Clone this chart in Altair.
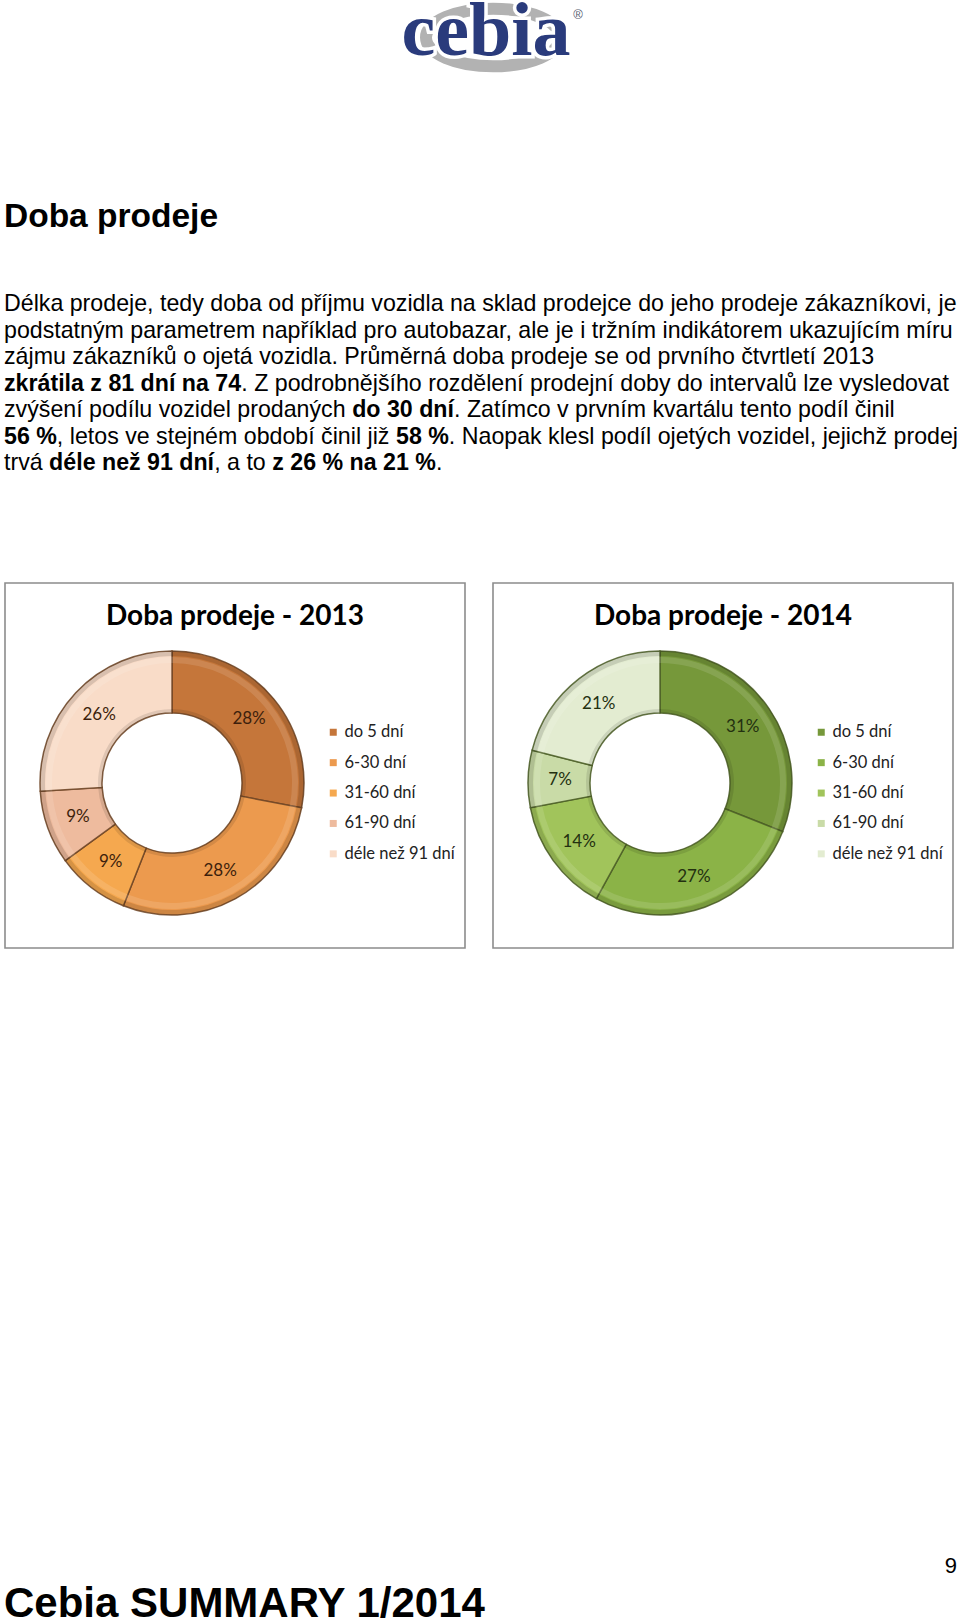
import altair as alt
import pandas as pd

# ------------------------------------------------------------------ data
categories = ["do 5 dní", "6-30 dní", "31-60 dní", "61-90 dní", "déle než 91 dní"]
share_2013 = [28, 28, 9, 9, 26]
share_2014 = [31, 27, 14, 7, 21]
colors_2013 = ["#c5763a", "#ec9a4e", "#f5a84f", "#eebb9e", "#f9dcc8"]
colors_2014 = ["#76983a", "#8bb347", "#a1c45b", "#c9dba7", "#e3ecd1"]
chart_titles = ["Doba prodeje - 2013", "Doba prodeje - 2014"]

logo_text = "cebia"
page_heading = "Doba prodeje"
footer_text = "Cebia SUMMARY 1/2014"
page_number = "9"

paragraph_lines = [
    [("Délka prodeje, tedy doba od příjmu vozidla na sklad prodejce do jeho prodeje zákazníkovi, je", False)],
    [("podstatným parametrem například pro autobazar, ale je i tržním indikátorem ukazujícím míru", False)],
    [("zájmu zákazníků o ojetá vozidla. Průměrná doba prodeje se od prvního čtvrtletí 2013", False)],
    [("zkrátila z 81 dní na 74", True), (". Z podrobnějšího rozdělení prodejní doby do intervalů lze vysledovat", False)],
    [("zvýšení podílu vozidel prodaných ", False), ("do 30 dní", True), (". Zatímco v prvním kvartálu tento podíl činil", False)],
    [("56 %", True), (", letos ve stejném období činil již ", False), ("58 %", True),
     (". Naopak klesl podíl ojetých vozidel, jejichž prodej", False)],
    [("trvá ", False), ("déle než 91 dní", True), (", a to ", False), ("z 26 % na 21 %", True), (".", False)],
]

# ------------------------------------------------------------------ fonts / metrics
SANS = "Liberation Sans"
LABEL_FONT = "Lato"
PARA_SIZE = 23.2

REG = {' ': 278, ',': 278, '.': 278, '-': 333, '%': 889, '/': 278, ':': 278,
       'A': 667, 'B': 667, 'C': 722, 'D': 722, 'E': 667, 'F': 611, 'G': 778, 'H': 722, 'I': 278,
       'J': 500, 'K': 667, 'L': 556, 'M': 833, 'N': 722, 'O': 778, 'P': 667, 'Q': 778, 'R': 722,
       'S': 667, 'T': 611, 'U': 722, 'V': 667, 'W': 944, 'X': 667, 'Y': 667, 'Z': 611,
       'a': 556, 'b': 556, 'c': 500, 'd': 556, 'e': 556, 'f': 278, 'g': 556, 'h': 556, 'i': 222,
       'j': 222, 'k': 500, 'l': 222, 'm': 833, 'n': 556, 'o': 556, 'p': 556, 'q': 556, 'r': 333,
       's': 500, 't': 278, 'u': 556, 'v': 500, 'w': 722, 'x': 500, 'y': 500, 'z': 500, 'í': 278}
BOLD = {' ': 278, ',': 278, '.': 278, '-': 333, '%': 889, '/': 278, ':': 333,
        'A': 722, 'B': 722, 'C': 722, 'D': 722, 'E': 667, 'F': 611, 'G': 778, 'H': 722, 'I': 278,
        'J': 556, 'K': 722, 'L': 611, 'M': 833, 'N': 722, 'O': 778, 'P': 667, 'Q': 778, 'R': 722,
        'S': 667, 'T': 611, 'U': 722, 'V': 667, 'W': 944, 'X': 667, 'Y': 667, 'Z': 611,
        'a': 556, 'b': 611, 'c': 556, 'd': 611, 'e': 556, 'f': 333, 'g': 611, 'h': 611, 'i': 278,
        'j': 278, 'k': 556, 'l': 278, 'm': 889, 'n': 611, 'o': 611, 'p': 611, 'q': 611, 'r': 389,
        's': 556, 't': 333, 'u': 611, 'v': 556, 'w': 778, 'x': 556, 'y': 556, 'z': 500, 'í': 278}
ACCENT = {'á': 'a', 'é': 'e', 'ě': 'e', 'ý': 'y', 'ů': 'u', 'ú': 'u', 'ř': 'r', 'ž': 'z',
          'č': 'c', 'š': 's', 'ň': 'n', 'ť': 't', 'ď': 'd', 'ó': 'o'}
for d in (REG, BOLD):
    for k in "0123456789":
        d[k] = 556


def text_width(s, bold, size):
    tbl = BOLD if bold else REG
    return sum(tbl.get(ACCENT.get(c, c), 556) for c in s) / 1000.0 * size


# paragraph segments -> table (positions computed from font metrics)
rows = []
for i, line in enumerate(paragraph_lines):
    x = 4.0
    for seg, bold in line:
        rows.append({"x": x, "y": 311 + i * 26.5, "t": seg, "w": "bold" if bold else "normal"})
        x += text_width(seg, bold, PARA_SIZE)
para_df = pd.DataFrame(rows)

W, H = 960, 1621


def pix_text(df, **kw):
    return alt.Chart(df).mark_text(align="left", baseline="alphabetic", **kw).encode(
        x=alt.X("x:Q", scale=None, axis=None),
        y=alt.Y("y:Q", scale=None, axis=None),
        text="t:N")


para_reg = pix_text(para_df[para_df.w == "normal"], font=SANS, fontSize=PARA_SIZE, color="#000")
para_bold = pix_text(para_df[para_df.w == "bold"], font=SANS, fontSize=PARA_SIZE,
                     fontWeight="bold", color="#000")

single = pd.DataFrame({"x": [0], "y": [0], "t": [""]})

heading = alt.Chart(single).mark_text(align="left", baseline="alphabetic", font=SANS, fontSize=33.5,
                                      fontWeight="bold", color="#000", text=page_heading).encode(
    x=alt.value(4), y=alt.value(227))
footer = alt.Chart(single).mark_text(align="left", baseline="alphabetic", font=SANS, fontSize=42,
                                     fontWeight="bold", color="#000", text=footer_text).encode(
    x=alt.value(4), y=alt.value(1617))
pagenum = alt.Chart(single).mark_text(align="right", baseline="alphabetic", font=SANS, fontSize=22,
                                      color="#000", text=page_number).encode(
    x=alt.value(957), y=alt.value(1573))

# logo
ellipse_path = "M-1,0 A1,0.43,0,1,1,1,0 A1,0.43,0,1,1,-1,0 Z"
logo_ring = alt.Chart(single).mark_point(shape=ellipse_path, size=134 * 134, filled=False,
                                         stroke="#b2b2b2", strokeWidth=12, opacity=1).encode(
    x=alt.value(493), y=alt.value(37.5))
logo_halo = alt.Chart(single).mark_text(align="center", baseline="alphabetic", font="Liberation Serif",
                                        fontSize=76, fontWeight="bold", color="#ffffff", stroke="#ffffff",
                                        strokeWidth=7, text=logo_text).encode(
    x=alt.value(486), y=alt.value(55))
logo_word = alt.Chart(single).mark_text(align="center", baseline="alphabetic", font="Liberation Serif",
                                        fontSize=76, fontWeight="bold", color="#2a3b7c",
                                        text=logo_text).encode(
    x=alt.value(486), y=alt.value(55))
logo_reg = alt.Chart(single).mark_text(align="center", baseline="middle", font=SANS, fontSize=13,
                                       color="#555a70", text="®").encode(
    x=alt.value(578), y=alt.value(15))


# chart panels
def panel(x0, x1, title, values, colors, stroke, label_color):
    box = alt.Chart(single).mark_rect(fill="#ffffff", stroke="#8c8c8c", strokeWidth=1.6).encode(
        x=alt.value(x0), x2=alt.value(x1), y=alt.value(583), y2=alt.value(948))
    ttl = alt.Chart(single).mark_text(align="center", baseline="alphabetic", font=LABEL_FONT,
                                      fontSize=28, fontWeight="bold", color="#000", text=title).encode(
        x=alt.value((x0 + x1) / 2), y=alt.value(625))
    cx, cy = x0 + 167, 783
    df = pd.DataFrame({"cat": categories, "val": values, "ord": list(range(len(values))),
                       "label": [f"{v}%" for v in values]})
    base = alt.Chart(df).encode(
        theta=alt.Theta("val:Q", stack=True),
        order=alt.Order("ord:Q"),
        x=alt.value(cx), y=alt.value(cy))
    arc = base.mark_arc(innerRadius=70, outerRadius=132, stroke=stroke, strokeWidth=1.5,
                        strokeOpacity=0.85).encode(
        color=alt.Color("cat:N", scale=alt.Scale(domain=categories, range=colors),
                        legend=alt.Legend(title=None, orient="none", legendX=x0 + 320, legendY=724,
                                          direction="vertical", symbolType="square", symbolSize=49,
                                          symbolStrokeWidth=0, symbolOpacity=1, labelFont=LABEL_FONT,
                                          labelFontSize=16.5, labelColor="#222", rowPadding=13.4,
                                          labelOffset=3, padding=0)))
    # bevel shading bands
    rim = base.mark_arc(innerRadius=127, outerRadius=132, color="#000000", opacity=0.13).encode(
        detail="cat:N")
    hilite = base.mark_arc(innerRadius=120, outerRadius=126, color="#ffffff", opacity=0.12).encode(
        detail="cat:N")
    inner = base.mark_arc(innerRadius=70, outerRadius=74, color="#000000", opacity=0.10).encode(
        detail="cat:N")
    lbl = base.mark_text(radius=100, font=LABEL_FONT, fontSize=17, color=label_color).encode(
        detail="cat:N", text="label:N")
    return [box, ttl, alt.layer(arc, rim, hilite, inner, lbl)]


p1 = panel(5, 465, chart_titles[0], share_2013, colors_2013, "#6d4424", "#3d1f0c")
p2 = panel(493, 953, chart_titles[1], share_2014, colors_2014, "#4b5e26", "#233010")

chart = alt.layer(
    logo_ring, logo_halo, logo_word, logo_reg, heading, para_reg, para_bold,
    p1[0], p2[0], p1[1], p2[1], p1[2], p2[2], pagenum, footer
).resolve_scale(color="independent", theta="independent").properties(
    width=W, height=H, padding=0, autosize="none", background="#ffffff"
).configure_view(strokeWidth=0)

chart.save("out.html", embed_options={"renderer": "svg", "actions": False})
